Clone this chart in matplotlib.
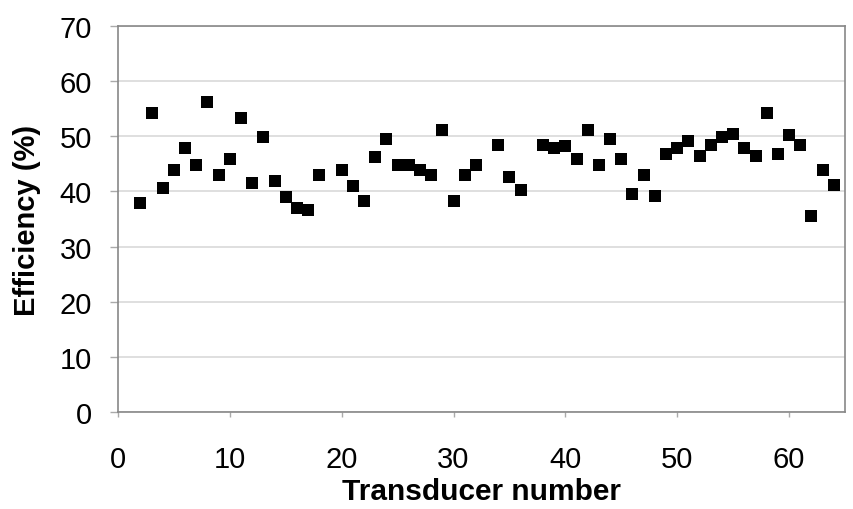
import matplotlib
matplotlib.use("Agg")
import matplotlib.pyplot as plt

transducer = [2, 3, 4, 5, 6, 7, 8, 9, 10, 11, 12, 13, 14, 15, 16, 17, 18,
              20, 21, 22, 23, 24, 25, 26, 27, 28, 29, 30, 31, 32,
              34, 35, 36, 38, 39, 40, 41, 42, 43, 44, 45, 46, 47, 48, 49,
              50, 51, 52, 53, 54, 55, 56, 57, 58, 59, 60, 61, 62, 63, 64]
efficiency = [37.9, 54.2, 40.6, 43.9, 47.9, 44.8, 56.2, 43.0, 45.9, 53.4, 41.6, 49.8, 41.9, 39.0, 37.0, 36.7, 43.0,
              43.9, 41.0, 38.3, 46.2, 49.5, 44.8, 44.8, 43.9, 43.0, 51.2, 38.3, 43.0, 44.8,
              48.5, 42.6, 40.3, 48.5, 47.9, 48.2, 45.9, 51.2, 44.8, 49.5, 45.9, 39.6, 43.0, 39.2, 46.8,
              47.9, 49.2, 46.5, 48.5, 49.9, 50.4, 47.9, 46.5, 54.2, 46.8, 50.2, 48.5, 35.6, 43.9, 41.2]
xticks = [0, 10, 20, 30, 40, 50, 60]
yticks = [0, 10, 20, 30, 40, 50, 60, 70]

plt.rcParams['font.family'] = ['Liberation Sans', 'DejaVu Sans']
fig = plt.figure(figsize=(8.54, 5.10), dpi=100)
ax = fig.add_axes([118/854, 1 - 413/510, (845-118)/854, (413-27)/510])

ax.scatter(transducer, efficiency, marker='s', s=8.6**2, color='black', zorder=3, linewidths=0)

ax.set_xlim(0, 65)
ax.set_ylim(0, 70)
ax.set_xticks(xticks)
ax.set_yticks(yticks)
ax.yaxis.grid(True, color='#d9d9d9', linewidth=1.2)
ax.set_axisbelow(True)
for s in ax.spines.values():
    s.set_color('#888888')
    s.set_linewidth(1.2)
ax.tick_params(axis='both', colors='#aaaaaa', labelcolor='black', labelsize=21, width=1)
ax.tick_params(axis='x', length=3.6, pad=20)
ax.tick_params(axis='y', length=5.8, pad=13)
ax.set_xlabel('Transducer number', fontsize=21.5, fontweight='bold', labelpad=3)
ax.set_ylabel('Efficiency (%)', fontsize=21, fontweight='bold', labelpad=13)

fig.savefig('out.png', dpi=100)
